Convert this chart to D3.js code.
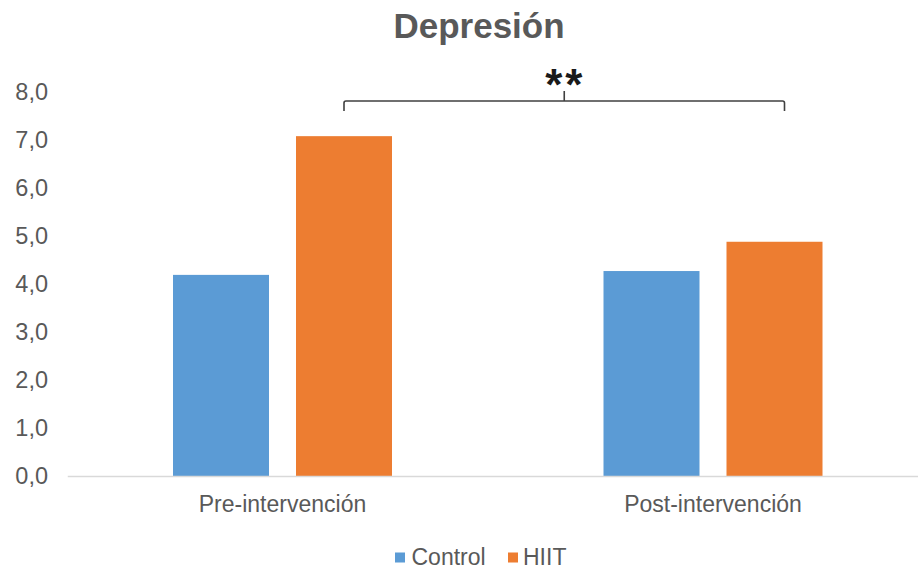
<!DOCTYPE html>
<html>
<head>
<meta charset="utf-8">
<script src="https://cdn.jsdelivr.net/npm/d3@7"></script>
<style>
  html, body { margin: 0; padding: 0; background: #fff; }
  svg { display: block; font-family: "Liberation Sans", Arial, sans-serif; }
</style>
</head>
<body>
<svg id="chart" width="918" height="574"></svg>
<script>
// Depression scores by phase and group
const categories = ["Pre-intervención", "Post-intervención"];
const seriesNames = ["Control", "HIIT"];
const controlValues = [4.19, 4.27];
const hiitValues = [7.08, 4.88];
const yTicks = [0, 1, 2, 3, 4, 5, 6, 7, 8];
const titleText = "Depresión";
const significanceText = "**";

const colors = { Control: "#5B9BD5", HIIT: "#ED7D31" };
const textColor = "#595959";

const svg = d3.select("#chart");

const y = d3.scaleLinear().domain([0, 8]).range([476, 92]);
const x0 = d3.scaleBand().domain(categories).range([67.25, 928.25]).padding(0);
const groupWidth = 219;
const x1 = d3.scaleBand().domain(seriesNames).range([0, groupWidth])
  .paddingInner(27 / 123).paddingOuter(0);
const groupLeft = c => x0(c) + x0.bandwidth() / 2 - groupWidth / 2;

const rows = categories.map((c, i) => ({
  category: c,
  values: [
    { series: "Control", value: controlValues[i] },
    { series: "HIIT", value: hiitValues[i] }
  ]
}));

// Title
svg.append("text")
  .attr("x", 479).attr("y", 38)
  .attr("text-anchor", "middle")
  .attr("font-size", 35).attr("font-weight", "bold")
  .attr("fill", textColor)
  .text(titleText);

// Y axis labels (no axis line, no gridlines)
const yAxis = d3.axisLeft(y).tickValues(yTicks).tickSize(0).tickPadding(0)
  .tickFormat(d => d3.format(".1f")(d).replace(".", ","));
const yg = svg.append("g").attr("transform", "translate(48,0)").call(yAxis);
yg.select(".domain").remove();
yg.selectAll("text")
  .attr("font-size", 23.5)
  .attr("font-family", "'Liberation Sans', Arial, sans-serif")
  .attr("fill", textColor);

// Bars
const groups = svg.append("g").selectAll("g").data(rows).join("g")
  .attr("transform", d => `translate(${groupLeft(d.category)},0)`);
groups.selectAll("rect").data(d => d.values).join("rect")
  .attr("x", d => x1(d.series))
  .attr("width", x1.bandwidth())
  .attr("y", d => y(d.value))
  .attr("height", d => y(0) - y(d.value))
  .attr("fill", d => colors[d.series]);

// Category axis
const xAxis = d3.axisBottom(x0).tickSize(0).tickPadding(0);
const xg = svg.append("g").attr("transform", `translate(0,${y(0)})`).call(xAxis);
xg.select(".domain").attr("stroke", "#D9D9D9").attr("stroke-width", 1.3);
xg.selectAll("text")
  .attr("y", 35.5).attr("dy", null)
  .attr("font-size", 23)
  .attr("font-family", "'Liberation Sans', Arial, sans-serif")
  .attr("fill", textColor);

// Significance bracket spanning the two phases
const xLeft = groupLeft(categories[0]) + x1("HIIT") + x1.bandwidth() / 2;
const xRight = groupLeft(categories[1]) + x1("HIIT") + x1.bandwidth() / 2 + 10;
const xMid = (xLeft + xRight) / 2;
const bracketY = 101;
svg.append("path")
  .attr("d", `M${xLeft},${bracketY + 10} V${bracketY + 2} Q${xLeft},${bracketY} ${xLeft + 2},${bracketY}
              H${xRight - 2} Q${xRight},${bracketY} ${xRight},${bracketY + 2} V${bracketY + 10}
              M${xMid},${bracketY} V${bracketY - 10}`)
  .attr("fill", "none").attr("stroke", "#404040").attr("stroke-width", 1.6);
svg.append("text")
  .attr("x", xMid + 1).attr("y", 100)
  .attr("text-anchor", "middle")
  .attr("font-size", 44).attr("font-weight", "bold")
  .attr("letter-spacing", 3)
  .attr("fill", "#1a1a1a")
  .text(significanceText);

// Legend
const legendItems = [
  { name: "Control", sx: 395, tx: 411.5 },
  { name: "HIIT", sx: 508, tx: 523 }
];
const lg = svg.append("g");
lg.selectAll("rect").data(legendItems).join("rect")
  .attr("x", d => d.sx).attr("y", 552.5).attr("width", 10).attr("height", 10)
  .attr("fill", d => colors[d.name]);
lg.selectAll("text").data(legendItems).join("text")
  .attr("x", d => d.tx).attr("y", 565)
  .attr("font-size", 23).attr("fill", textColor)
  .text(d => d.name);
</script>
</body>
</html>
